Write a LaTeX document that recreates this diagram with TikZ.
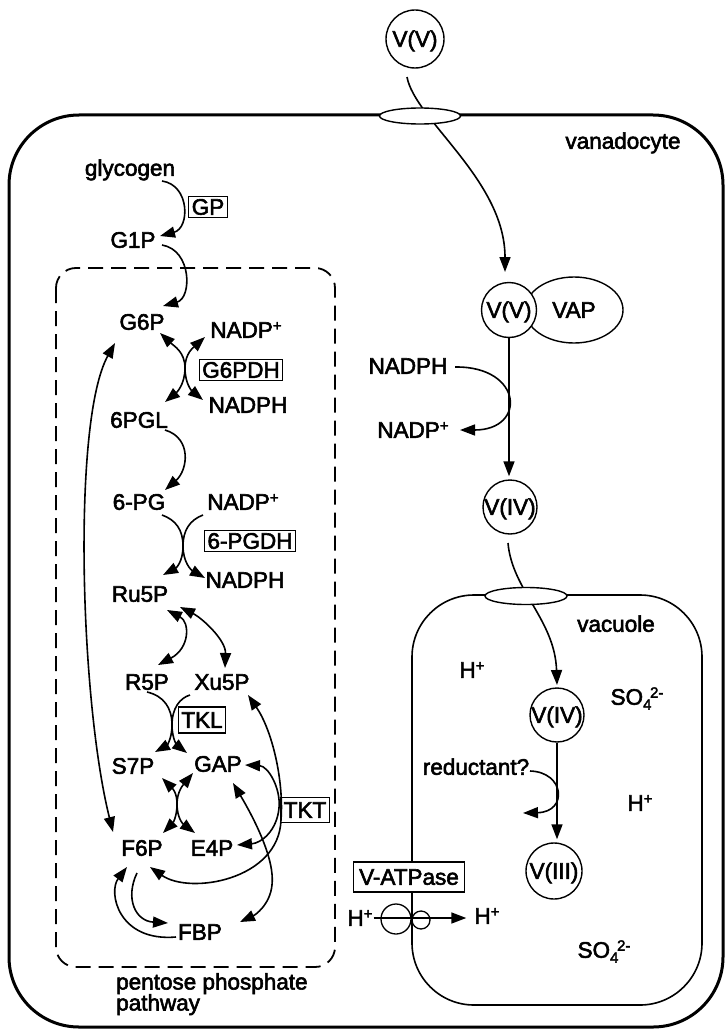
\documentclass[tikz,border=0pt]{standalone}
\usepackage{fontspec}
\setmainfont{Liberation Sans}[FakeBold=2.5]
\usetikzlibrary{arrows.meta,shapes.geometric}
\newcommand\mysup[1]{\raisebox{7pt}{\fontsize{15}{15}\selectfont #1}}
\newcommand\mysub[1]{\raisebox{-5pt}{\fontsize{15}{15}\selectfont #1}}
\begin{document}
\begin{tikzpicture}[x=1pt,y=-1pt,
  every node/.style={font=\fontsize{22.5}{21}\selectfont},
  >={Triangle[length=15pt,width=11pt]},
  lbl/.style={inner sep=1pt, text height=15.5pt, text depth=0pt},
  enz/.style={draw, line width=1.3pt, inner xsep=3pt, inner ysep=3pt, text height=15.5pt, text depth=0pt, fill=white},
  cir/.style={circle, draw, line width=1.4pt, inner sep=0pt, text height=15.5pt, text depth=0pt, fill=white},
  chan/.style={ellipse, draw, line width=1.4pt, fill=white, inner sep=0pt},
  con/.style={line width=1.6pt},
  arr/.style={con, ->},
  darr/.style={con, <->}]
\useasboundingbox (0,0) rectangle (725,1030);
% membranes
\draw[line width=3pt, rounded corners=70pt] (9,115) rectangle (723,1027);
\draw[line width=1.8pt, dash pattern=on 15pt off 8pt, rounded corners=20pt] (56,268) rectangle (335,967);
\draw[line width=1.6pt, rounded corners=62pt] (412,595) rectangle (702,1005);

% pathway nodes
\node[lbl] (glycogen) at (130,168) {glycogen};
\node[enz] (GP) at (208,207) {GP};
\node[lbl] (G1P) at (133,240) {G1P};
\node[lbl] (G6P) at (142,322) {G6P};
\node[lbl] (NP1) at (246,330) {NADP\mysup{+}};
\node[enz] (G6PDH) at (241,370) {G6PDH};
\node[lbl] (NH1) at (248,405) {NADPH};
\node[lbl] (PGL) at (139,420) {6PGL};
\node[lbl] (PG) at (139,502) {6-PG};
\node[lbl] (NP2) at (243,502) {NADP\mysup{+}};
\node[enz] (PGDH) at (250,541) {6-PGDH};
\node[lbl] (NH2) at (245,580) {NADPH};
\node[lbl] (Ru5P) at (140,594) {Ru5P};
\node[lbl] (R5P) at (147,682) {R5P};
\node[lbl] (Xu5P) at (222,682) {Xu5P};
\node[enz, minimum height=26pt] (TKL) at (202,720) {TKL};
\node[lbl] (S7P) at (133,766) {S7P};
\node[lbl] (GAP) at (218,764) {GAP};
\node[lbl] (F6P) at (142,848) {F6P};
\node[lbl] (E4P) at (212,848) {E4P};
\node[enz, minimum height=25pt] (TKT) at (305,810) {TKT};
\node[lbl] (FBP) at (200,932) {FBP};
\node[anchor=north west, inner sep=0pt, align=left] (ppp) at (116,973) {pentose phosphate\\pathway};

% right side nodes
\node[lbl] (vanado) at (623,141) {vanadocyte};
\node[cir, minimum size=58pt] (VVt) at (415,39) {V(V)};
\node[ellipse, draw, line width=1.4pt, minimum width=98pt, minimum height=66pt, inner sep=0pt, text height=15.5pt, text depth=0pt] (VAP) at (574,310) {VAP};
\node[cir, minimum size=55pt] (VV) at (509,310) {V(V)};
\node[lbl] (NH3) at (408,366) {NADPH};
\node[lbl] (NP3) at (413,430) {NADP\mysup{+}};
\node[cir, minimum size=54pt] (VIV) at (510,507) {V(IV)};
\node[lbl] (vac) at (616,624) {vacuole};
\node[lbl] (H1) at (472,670) {H\mysup{+}};
\node[cir, minimum size=54pt] (VIV2) at (557,715) {V(IV)};
\node[lbl] (SO1) at (637,697) {SO\rlap{\mysub{4}}\hspace{7pt}\mysup{2-}};
\node[lbl] (red) at (476,767) {reductant?};
\coordinate (redout) at (523,813);
\node[lbl] (H2) at (640,803) {H\mysup{+}};
\node[cir, minimum size=56pt] (VIII) at (554,871) {V(III)};
\node[enz, inner xsep=6pt, minimum height=30pt] (VAT) at (409,877) {V-ATPase};
\node[circle, draw, line width=1.3pt, minimum size=30pt, inner sep=0pt] (atp1) at (396,919) {};
\node[circle, draw, line width=1.3pt, minimum size=18pt, inner sep=0pt] (atp2) at (421,920) {};
\node[lbl] (Hl) at (360,918) {H\mysup{+}};
\node[lbl] (Hr) at (487,916) {H\mysup{+}};
\node[lbl] (SO2) at (604,950) {SO\rlap{\mysub{4}}\hspace{7pt}\mysup{2-}};

% pathway connectors
\draw[arr] ([shift={(32,13)}]glycogen.center) .. controls (190,185) and (190,228) .. ([shift={(27,-4)}]G1P.center);
\draw[arr] ([shift={(29,5)}]G1P.center) .. controls (192,250) and (192,298) .. ([shift={(21,-16)}]G6P.center);
% G6PDH
\draw[darr] ([shift={(18,11)}]G6P.center) .. controls (174,346) and (185,352) .. (185,368) .. controls (185,385) and (176,393) .. ([shift={(26,-18)}]PGL.center);
\draw[darr] ([shift={(-41,7)}]NP1.center) .. controls (194,347) and (185,353) .. (185,368) .. controls (185,384) and (192,391) .. ([shift={(-45,-5)}]NH1.center);
\draw[arr] ([shift={(26,10)}]PGL.center) .. controls (192,438) and (188,470) .. ([shift={(26,-12)}]PG.center);
% 6-PGDH
\draw[arr] ([shift={(23,13)}]PG.center) .. controls (176,520) and (183,530) .. (183,546) .. controls (183,562) and (176,568) .. ([shift={(23,-19)}]Ru5P.center);
\draw[arr] ([shift={(-40,13)}]NP2.center) .. controls (190,520) and (183,530) .. (183,546) .. controls (183,562) and (191,570) .. ([shift={(-40,-2)}]NH2.center);
\draw[darr] ([shift={(27,16)}]Ru5P.center) .. controls (190,622) and (190,648) .. ([shift={(11,-17)}]R5P.center);
\draw[darr] ([shift={(40,13)}]Ru5P.center) .. controls (202,618) and (226,640) .. ([shift={(3,-14)}]Xu5P.center);
% TKL
\draw[arr] ([shift={(0,10)}]R5P.center) .. controls (164,696) and (172,708) .. (172,725) .. controls (172,740) and (166,746) .. ([shift={(22,-14)}]S7P.center);
\draw[arr] ([shift={(-32,13)}]Xu5P.center) .. controls (180,698) and (172,708) .. (172,725) .. controls (172,740) and (178,746) .. ([shift={(-31,-11)}]GAP.center);
% transaldolase
\draw[darr] ([shift={(29,12)}]S7P.center) .. controls (172,788) and (177,792) .. (177,804) .. controls (177,818) and (172,824) .. ([shift={(21,-15)}]F6P.center);
\draw[darr] ([shift={(-25,9)}]GAP.center) .. controls (183,785) and (177,792) .. (177,804) .. controls (177,818) and (183,824) .. ([shift={(-17,-15)}]E4P.center);
% long arcs
\draw[darr] ([shift={(-27,21)}]G6P.center) .. controls (72,420) and (80,700) .. ([shift={(-29,-16)}]F6P.center);
\draw[arr] ([shift={(-5,25)}]F6P.center) .. controls (125,898) and (135,921) .. ([shift={(-32,-9)}]FBP.center);
\draw[arr] ([shift={(-24,5)}]FBP.center) .. controls (118,942) and (108,892) .. ([shift={(-15,19)}]F6P.center);
\draw[darr] ([shift={(26,13)}]Xu5P.center) .. controls (272,730) and (284,780) .. (281,820) .. controls (279,880) and (190,895) .. ([shift={(8,19)}]F6P.center);
\draw[darr] ([shift={(27,1)}]GAP.center) .. controls (268,766) and (281,788) .. (279,808) .. controls (277,830) and (262,843) .. ([shift={(25,-3)}]E4P.center);
\draw[darr] ([shift={(15,19)}]GAP.center) .. controls (255,820) and (275,860) .. (272,885) .. controls (270,905) and (255,915) .. ([shift={(40,-10)}]FBP.center);

% right connectors
\draw[arr] ([shift={(-8,38)}]VVt.center) .. controls (415,120) and (505,180) .. ([shift={(-4,-38)}]VV.center);
\draw[arr, shorten >=3pt] (VV.south) -- (VV.south |- VIV.north);
\draw[arr] ([shift={(47,1)}]NH3.center) .. controls (523,366) and (527,430) .. ([shift={(47,0)}]NP3.center);
\draw[arr] ([shift={(-2,36)}]VIV.center) .. controls (512,590) and (555,620) .. ([shift={(0,-30)}]VIV2.center);
\draw[arr, shorten >=3pt] (VIV2.south) -- (VIV2.south |- VIII.north);
\draw[arr] ([shift={(54,4)}]red.center) .. controls (565,772) and (568,812) .. (redout);
\draw[arr, shorten >=7pt] (Hl.east) -- (Hl.east -| Hr.west);

% channels
\node[chan, minimum width=81pt, minimum height=16pt] (ch1) at (420,116) {};
\node[chan, minimum width=82pt, minimum height=17pt] (ch2) at (526,596) {};
\end{tikzpicture}
\end{document}
